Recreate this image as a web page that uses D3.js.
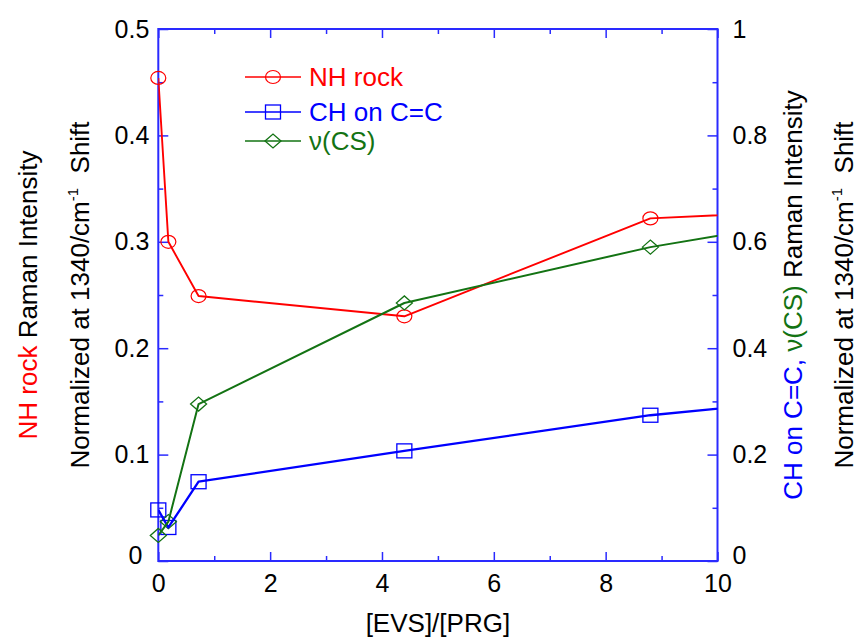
<!DOCTYPE html>
<html>
<head>
<meta charset="utf-8">
<script src="https://cdn.jsdelivr.net/npm/d3@7"></script>
<style>
  body { margin: 0; background: #fff; }
  svg { display: block; font-family: "Liberation Sans", Arial, Helvetica, sans-serif; }
</style>
</head>
<body>
<svg id="chart" width="860" height="640"></svg>
<script>
// [EVS]/[PRG] molar ratio
const ratio = [0, 0.18, 0.72, 4.4, 8.8, 13.2];
// NH rock intensity (left axis)
const nhRock = [0.454, 0.300, 0.249, 0.230, 0.322, 0.333];
// CH on C=C intensity (right axis)
const chOnCC = [0.096, 0.063, 0.149, 0.207, 0.274, 0.319];
// nu(CS) intensity (right axis)
const nuCS = [0.048, 0.074, 0.295, 0.485, 0.590, 0.668];

const xMajor = [0, 2, 4, 6, 8, 10];
const xMinor = [1, 3, 5, 7, 9];
const leftMajor = [0, 0.1, 0.2, 0.3, 0.4, 0.5];
const leftMinor = [0.05, 0.15, 0.25, 0.35, 0.45];
const rightMajor = [0, 0.2, 0.4, 0.6, 0.8, 1];
const rightMinor = [0.1, 0.3, 0.5, 0.7, 0.9];

const RED = "#ff0000", BLUE = "#0000ff", GREEN = "#137313", AXIS = "#2a2aff";
const TICK_FONT = 25, TITLE_FONT = 26;

const svg = d3.select("#chart");
const L = 158.3, R = 717.5, T = 29, B = 561;

const x = d3.scaleLinear().domain([0, 10]).range([L, R]);
const yL = d3.scaleLinear().domain([0, 0.5]).range([B, T]);
const yR = d3.scaleLinear().domain([0, 1]).range([B, T]);

function styleAxis(g, labelSize) {
  g.select(".domain").remove();
  g.selectAll(".tick line").attr("stroke", AXIS).attr("stroke-width", 1.5);
  g.selectAll(".tick text").attr("fill", "#000").attr("font-size", labelSize)
    .attr("font-family", "\"Liberation Sans\", Arial, Helvetica, sans-serif");
}

const fmt = d => d === 0 ? "0" : d3.format("~g")(d);

// bottom axis
svg.append("g").attr("transform", `translate(0,${B})`)
  .call(d3.axisBottom(x).tickValues(xMajor).tickSize(-9).tickPadding(13).tickFormat(fmt))
  .call(g => styleAxis(g, TICK_FONT));
svg.append("g").attr("transform", `translate(0,${B})`)
  .call(d3.axisBottom(x).tickValues(xMinor).tickSize(-5).tickFormat(""))
  .call(g => styleAxis(g, 0));
// top axis
svg.append("g").attr("transform", `translate(0,${T})`)
  .call(d3.axisTop(x).tickValues(xMajor).tickSize(-9).tickFormat(""))
  .call(g => styleAxis(g, 0));
svg.append("g").attr("transform", `translate(0,${T})`)
  .call(d3.axisTop(x).tickValues(xMinor).tickSize(-5).tickFormat(""))
  .call(g => styleAxis(g, 0));
// left axis
const gl = svg.append("g").attr("transform", `translate(${L},0)`)
  .call(d3.axisLeft(yL).tickValues(leftMajor).tickSize(-10).tickPadding(9).tickFormat(fmt))
  .call(g => styleAxis(g, TICK_FONT));
gl.selectAll(".tick").filter(d => d === 0).select("text").attr("dy", "0.1em").attr("x", -16);
svg.append("g").attr("transform", `translate(${L},0)`)
  .call(d3.axisLeft(yL).tickValues(leftMinor).tickSize(-5).tickFormat(""))
  .call(g => styleAxis(g, 0));
// right axis
const gr = svg.append("g").attr("transform", `translate(${R},0)`)
  .call(d3.axisRight(yR).tickValues(rightMajor).tickSize(-10).tickPadding(15).tickFormat(fmt))
  .call(g => styleAxis(g, TICK_FONT));
gr.selectAll(".tick").filter(d => d === 0).select("text").attr("dy", "0.1em");
svg.append("g").attr("transform", `translate(${R},0)`)
  .call(d3.axisRight(yR).tickValues(rightMinor).tickSize(-5).tickFormat(""))
  .call(g => styleAxis(g, 0));

// frame
svg.append("rect").attr("x", L).attr("y", T).attr("width", R - L).attr("height", B - T)
  .attr("fill", "none").attr("stroke", AXIS).attr("stroke-width", 2);

// data
svg.append("clipPath").attr("id", "plot-clip")
  .append("rect").attr("x", L - 12).attr("y", T - 12).attr("width", R - L + 12).attr("height", B - T + 24);
svg.append("clipPath").attr("id", "line-clip")
  .append("rect").attr("x", L).attr("y", T).attr("width", R - L).attr("height", B - T);

const plot = svg.append("g").attr("clip-path", "url(#plot-clip)");

const series = [
  { name: "NH rock", values: nhRock, y: yL, color: RED, width: 1.9, marker: "circle" },
  { name: "CH on C=C", values: chOnCC, y: yR, color: BLUE, width: 2.3, marker: "square" },
  { name: "\u03bd(CS)", values: nuCS, y: yR, color: GREEN, width: 2, marker: "diamond" }
];

function drawMarker(g, type, cx, cy, color) {
  if (type === "circle") {
    g.append("ellipse").attr("cx", cx).attr("cy", cy).attr("rx", 7.5).attr("ry", 6.5)
      .attr("fill", "none").attr("stroke", color).attr("stroke-width", 1.2);
  } else if (type === "square") {
    g.append("rect").attr("x", cx - 7.5).attr("y", cy - 7).attr("width", 15).attr("height", 14)
      .attr("fill", "none").attr("stroke", color).attr("stroke-width", 1.3);
  } else {
    g.append("path").attr("d", `M${cx - 8},${cy} L${cx},${cy - 7} L${cx + 8},${cy} L${cx},${cy + 7} Z`)
      .attr("fill", "none").attr("stroke", color).attr("stroke-width", 1.3);
  }
}

series.forEach(s => {
  const pts = ratio.map((r, i) => [x(r), s.y(s.values[i])]);
  svg.append("path").attr("clip-path", "url(#line-clip)")
    .attr("d", d3.line()(pts))
    .attr("fill", "none").attr("stroke", s.color).attr("stroke-width", s.width)
    .attr("stroke-linejoin", "round");
  pts.forEach(p => drawMarker(plot, s.marker, p[0], p[1], s.color));
});

// legend
const legendY = [77, 112, 141];
series.forEach((s, i) => {
  const g = svg.append("g");
  g.append("line").attr("x1", 245).attr("x2", 301).attr("y1", legendY[i]).attr("y2", legendY[i])
    .attr("stroke", s.color).attr("stroke-width", 1.6);
  drawMarker(g, s.marker, 273, legendY[i], s.color);
  g.append("text").attr("x", 309).attr("y", legendY[i]).attr("dy", "0.36em")
    .attr("font-size", 26).attr("fill", s.color).text(s.name);
});

// axis titles
const midY = (T + B) / 2;
svg.append("text").attr("x", (L + R) / 2).attr("y", 632).attr("text-anchor", "middle")
  .attr("font-size", TITLE_FONT).text("[EVS]/[PRG]");

function vTitle(cx, parts) {
  const t = svg.append("text")
    .attr("transform", `translate(${cx},${midY}) rotate(-90)`)
    .attr("text-anchor", "middle").attr("dy", "0.36em").attr("font-size", TITLE_FONT);
  parts.forEach(p => {
    const ts = t.append("tspan").attr("fill", p.color || "#000").text(p.text);
    if (p.sup) ts.attr("font-size", 15).attr("baseline-shift", "75%");
  });
  return t;
}

vTitle(28, [{ text: "NH rock", color: RED }, { text: " Raman Intensity" }]);
vTitle(80, [{ text: "Normalized at 1340/cm" }, { text: "-1", sup: true }, { text: "\u00a0\u00a0Shift" }]);
vTitle(793, [{ text: "CH on C=C, ", color: BLUE }, { text: "\u03bd(CS)", color: GREEN }, { text: " Raman Intensity" }]);
vTitle(844, [{ text: "Normalized at 1340/cm" }, { text: "-1", sup: true }, { text: "\u00a0\u00a0Shift" }]);
</script>
</body>
</html>
